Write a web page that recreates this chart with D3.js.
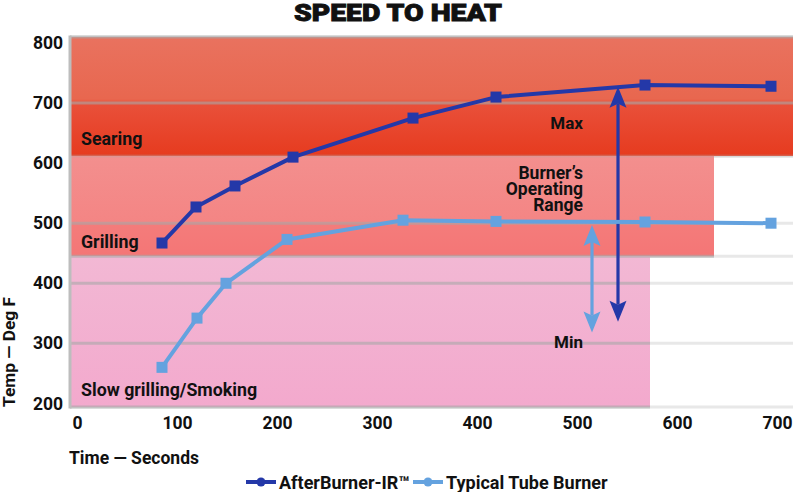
<!DOCTYPE html>
<html>
<head>
<meta charset="utf-8">
<script src="https://cdn.jsdelivr.net/npm/d3@7"></script>
<style>
  html, body { margin: 0; padding: 0; background: #fff; }
  svg text { font-family: Roboto, "Noto Sans", sans-serif; font-weight: 700; fill: #111; }
</style>
</head>
<body>
<div id="chart"></div>
<script>
// data
var afterTimes = [85, 119, 158, 216, 336, 419, 568, 694];
var afterTemps = [467, 527, 562, 610, 675, 710, 730, 728];
var tubeTimes = [85, 120, 149, 210, 326, 419, 568, 694];
var tubeTemps = [260, 342, 400, 473, 505, 503, 502, 500];

var xTicks = [0, 100, 200, 300, 400, 500, 600, 700];
var yTicks = [200, 300, 400, 500, 600, 700, 800];
var gridTemps = [194, 300, 400, 445, 500, 612, 700, 810];

var bandNames = ['Searing', 'Grilling', 'Slow grilling/Smoking'];
var bandLow = [612, 445, 194];
var bandHigh = [810, 612, 445];
var bandEnd = [716, 637, 573];

// annotation arrows: time, top temp, bottom temp
var arrowTimes = [541, 515];
var arrowTop = [727, 497];
var arrowBottom = [336, 318];

var W = 793, H = 492;
var x = d3.scaleLinear().domain([-7, 716]).range([70, 793]);
var y = d3.scaleLinear().domain([194, 810]).range([407, 37]);

var dark = '#2438a8', light = '#64a2df';

var svg = d3.select('#chart').append('svg')
    .attr('width', W).attr('height', H)
    .attr('viewBox', '0 0 ' + W + ' ' + H);

var defs = svg.append('defs');
function grad(id, stops){
    var g = defs.append('linearGradient').attr('id', id)
        .attr('x1', 0).attr('y1', 0).attr('x2', 0).attr('y2', 1);
    stops.forEach(function(s){
        g.append('stop').attr('offset', s[0]).attr('stop-color', s[1]);
    });
}
grad('g0', [['0%', '#e9725f'], ['52%', '#e8674f'], ['56%', '#e9503a'], ['100%', '#e63b1f']]);
grad('g1', [['0%', '#f38f8e'], ['66%', '#f48584'], ['67%', '#f47c7b'], ['100%', '#f47676']]);
grad('g2', [['0%', '#f2b8d4'], ['100%', '#f3a9cd']]);

var clip = defs.append('clipPath').attr('id', 'bandclip');
bandNames.forEach(function(d, i){
    clip.append('rect')
        .attr('x', x(-7)).attr('y', y(bandHigh[i]) - 2)
        .attr('width', x(bandEnd[i]) - x(-7))
        .attr('height', y(bandLow[i]) - y(bandHigh[i]) + 4);
});

// light grid lines over the white part
svg.append('g').selectAll('line').data(gridTemps).enter().append('line')
    .attr('x1', x(-7)).attr('x2', W)
    .attr('y1', function(d){ return y(d); }).attr('y2', function(d){ return y(d); })
    .attr('stroke', '#e8e8e8').attr('stroke-width', 3);

// bands
svg.append('g').selectAll('rect').data(bandNames).enter().append('rect')
    .attr('x', x(-7))
    .attr('y', function(d, i){ return y(bandHigh[i]); })
    .attr('width', function(d, i){ return x(bandEnd[i]) - x(-7); })
    .attr('height', function(d, i){ return y(bandLow[i]) - y(bandHigh[i]); })
    .attr('fill', function(d, i){ return 'url(#g' + i + ')'; });

// grey grid lines on the bands
svg.append('g').attr('clip-path', 'url(#bandclip)')
    .selectAll('line').data(gridTemps).enter().append('line')
    .attr('x1', x(-7)).attr('x2', W)
    .attr('y1', function(d){ return y(d); }).attr('y2', function(d){ return y(d); })
    .attr('stroke', '#a8a8a8').attr('stroke-opacity', function(d){ return d === 612 ? 0.25 : 0.6; })
    .attr('stroke-width', 3);

// left axis line
svg.append('line')
    .attr('x1', x(-7)).attr('x2', x(-7))
    .attr('y1', y(810) - 1.5).attr('y2', y(194) + 1.5)
    .attr('stroke', '#bdbdbd').attr('stroke-width', 3);

// axes
var yAxis = svg.append('g').attr('transform', 'translate(' + x(-7) + ',0)')
    .call(d3.axisLeft(y).tickValues(yTicks).tickSize(0).tickPadding(7));
var xAxis = svg.append('g').attr('transform', 'translate(0,' + y(194) + ')')
    .call(d3.axisBottom(x).tickValues(xTicks).tickSize(0).tickPadding(10));
[yAxis, xAxis].forEach(function(a){
    a.select('.domain').remove();
    a.selectAll('text').attr('font-size', 17.5).attr('font-family', null).attr('fill', '#111');
});

// band labels
svg.append('g').selectAll('text').data(bandNames).enter().append('text')
    .attr('x', 81)
    .attr('y', function(d, i){ return [145, 248, 396][i]; })
    .attr('font-size', 17.8)
    .text(function(d){ return d; });

// arrows
function arrow(t, top, bottom, color){
    var g = svg.append('g');
    var ax = x(t), y1 = y(top), y2 = y(bottom), hw = 8.5, hl = 21, notch = 4;
    g.append('line').attr('x1', ax).attr('x2', ax)
        .attr('y1', y1 + hl - notch).attr('y2', y2 - hl + notch)
        .attr('stroke', color).attr('stroke-width', 3.2);
    g.append('path').attr('fill', color)
        .attr('d', 'M' + ax + ',' + y1 + 'L' + (ax + hw) + ',' + (y1 + hl) + 'L' + ax + ',' + (y1 + hl - notch) + 'L' + (ax - hw) + ',' + (y1 + hl) + 'Z');
    g.append('path').attr('fill', color)
        .attr('d', 'M' + ax + ',' + y2 + 'L' + (ax + hw) + ',' + (y2 - hl) + 'L' + ax + ',' + (y2 - hl + notch) + 'L' + (ax - hw) + ',' + (y2 - hl) + 'Z');
}
arrow(arrowTimes[1], arrowTop[1], arrowBottom[1], light);
arrow(arrowTimes[0], arrowTop[0], arrowBottom[0], dark);

// annotation texts
svg.append('text').attr('x', 583).attr('y', 129).attr('font-size', 17)
    .attr('text-anchor', 'end').text('Max');
var op = svg.append('text').attr('x', 583).attr('y', 179).attr('font-size', 17.5)
    .attr('text-anchor', 'end');
['Burner\u2019s', 'Operating', 'Range'].forEach(function(s, i){
    op.append('tspan').attr('x', 583).attr('dy', i ? 15.8 : 0).text(s);
});
svg.append('text').attr('x', 583).attr('y', 348).attr('font-size', 17)
    .attr('text-anchor', 'end').text('Min');

// series
var line = d3.line().x(function(d){ return x(d[0]); }).y(function(d){ return y(d[1]); });
function series(times, temps, color, size){
    var pts = d3.zip(times, temps);
    svg.append('path').datum(pts).attr('d', line)
        .attr('fill', 'none').attr('stroke', color).attr('stroke-width', 4)
        .attr('stroke-linejoin', 'round');
    svg.append('g').selectAll('rect').data(pts).enter().append('rect')
        .attr('x', function(d){ return x(d[0]) - size / 2; })
        .attr('y', function(d){ return y(d[1]) - size / 2; })
        .attr('width', size).attr('height', size)
        .attr('fill', color);
}
series(tubeTimes, tubeTemps, light, 11);
series(afterTimes, afterTemps, dark, 11);

// title
svg.append('text').attr('x', 294).attr('y', 20.5)
    .attr('font-size', 24)
    .attr('textLength', 208).attr('lengthAdjust', 'spacingAndGlyphs')
    .style('font-weight', 900)
    .attr('stroke', '#111').attr('stroke-width', 0.9)
    .text('SPEED TO HEAT');

// axis titles
svg.append('text').attr('transform', 'translate(14.5,352) rotate(-90)')
    .attr('text-anchor', 'middle').attr('font-size', 16.5)
    .attr('textLength', 110).attr('lengthAdjust', 'spacingAndGlyphs')
    .text('Temp \u2014 Deg F');
svg.append('text').attr('x', 69).attr('y', 464).attr('font-size', 17.5)
    .text('Time \u2014 Seconds');

// legend
var legend = [['AfterBurner-IR\u2122', dark, 246], ['Typical Tube Burner', light, 413]];
legend.forEach(function(l){
    var g = svg.append('g');
    g.append('line').attr('x1', l[2]).attr('x2', l[2] + 30)
        .attr('y1', 482).attr('y2', 482).attr('stroke', l[1]).attr('stroke-width', 4);
    g.append('circle').attr('cx', l[2] + 15).attr('cy', 482).attr('r', 4.5).attr('fill', l[1]);
    g.append('text').attr('x', l[2] + 33).attr('y', 488.5).attr('font-size', 18).text(l[0]);
});
</script>
</body>
</html>
